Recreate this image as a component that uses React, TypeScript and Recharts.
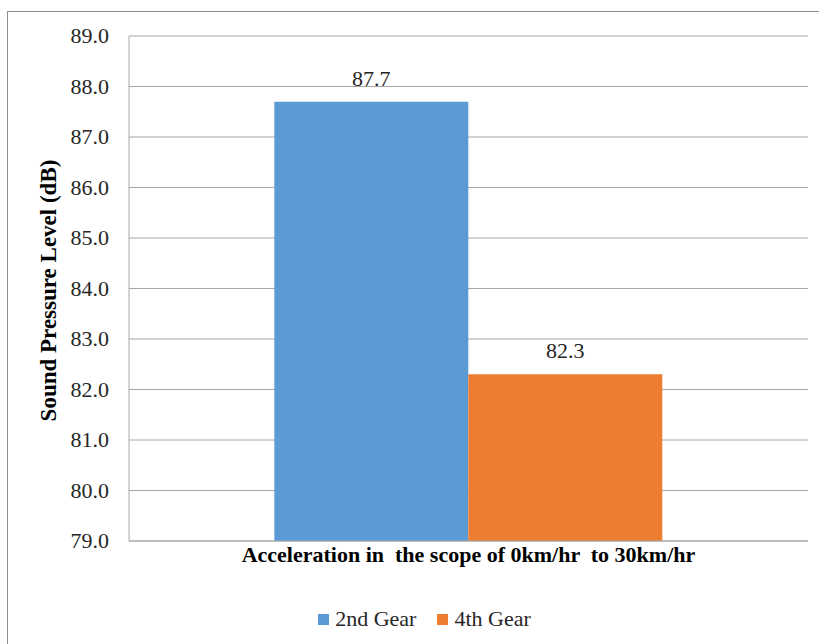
import { BarChart, Bar, XAxis, YAxis, CartesianGrid, Legend, LabelList } from "recharts";

const categories = ["Acceleration in \u00A0the scope of 0km/hr \u00A0to 30km/hr"];
const secondGear = [87.7];
const fourthGear = [82.3];
const yTicks = [79, 80, 81, 82, 83, 84, 85, 86, 87, 88, 89];

const data = categories.map((name, i) => ({
  name,
  gear2: secondGear[i],
  gear4: fourthGear[i],
}));

const SERIF = "Liberation Serif";

// y tick drawn by hand so the serif face sticks
const YTick = (props: any) => {
  const { x, y, payload } = props;
  return (
    <text x={x} y={y} dy={7} textAnchor="end" fontFamily={SERIF} fontSize={22} fill="#262626">
      {Number(payload.value).toFixed(1)}
    </text>
  );
};

const BarValue = (props: any) => {
  const { x, y, width, value } = props;
  return (
    <text x={x + width / 2} y={y - 16} textAnchor="middle" fontFamily={SERIF} fontSize={22} fill="#262626">
      {Number(value).toFixed(1)}
    </text>
  );
};

const LegendBox = (props: any) => {
  const { payload } = props;
  return (
    <div style={{ display: "flex", justifyContent: "center", fontFamily: SERIF, fontSize: 22, color: "#262626", paddingLeft: 30 }}>
      {payload.map((p: any, i: number) => (
        <span key={i} style={{ display: "inline-flex", alignItems: "center", marginRight: i === 0 ? 21 : 0 }}>
          <span style={{ display: "inline-block", width: 11, height: 11, background: p.color, marginRight: 6 }} />
          {p.value}
        </span>
      ))}
    </div>
  );
};

export default function App() {
  return (
    <div style={{ position: "absolute", left: 0, top: 0, width: 819, height: 644, overflow: "hidden", background: "#fff", fontFamily: SERIF }}>
      {/* outer chart frame, runs off the right and bottom edges */}
      <div style={{ position: "absolute", left: 7, top: 11, width: 900, height: 700, border: "1px solid #8c8c8c" }} />
      <div style={{ position: "absolute", left: 0, top: 0 }}>
        <BarChart
          width={819}
          height={644}
          data={data}
          margin={{ top: 36, right: 11, bottom: 73, left: 0 }}
          barCategoryGap="21.4%"
          barGap={0}
          style={{ fontFamily: SERIF }}
        >
          <CartesianGrid vertical={false} stroke="#a6a6a6" />
          <XAxis
            dataKey="name"
            tick={false}
            tickLine={false}
            height={30}
            axisLine={{ stroke: "#a6a6a6" }}
            label={{ value: categories[0], position: "insideTop", offset: 5, style: { fontFamily: SERIF, fontSize: 22, fontWeight: "bold", fill: "#000" } }}
          />
          <YAxis
            width={129}
            domain={[79, 89]}
            ticks={yTicks}
            interval={0}
            tickLine={false}
            tickSize={0}
            tickMargin={20}
            axisLine={{ stroke: "#a6a6a6" }}
            tick={YTick}
            label={{ value: "Sound Pressure Level (dB)", angle: -90, position: "center", dx: -17, dy: 2, style: { fontFamily: SERIF, fontSize: 23, fontWeight: "bold", fill: "#000", textAnchor: "middle" } }}
          />
          <Legend
            layout="horizontal"
            verticalAlign="middle"
            align="center"
            content={LegendBox}
            wrapperStyle={{ top: 606, left: 0, width: 819 }}
          />
          <Bar dataKey="gear2" name="2nd Gear" fill="#5b9bd5" isAnimationActive={false}>
            <LabelList dataKey="gear2" content={BarValue} />
          </Bar>
          <Bar dataKey="gear4" name="4th Gear" fill="#ed7d31" isAnimationActive={false}>
            <LabelList dataKey="gear4" content={BarValue} />
          </Bar>
        </BarChart>
      </div>
    </div>
  );
}
